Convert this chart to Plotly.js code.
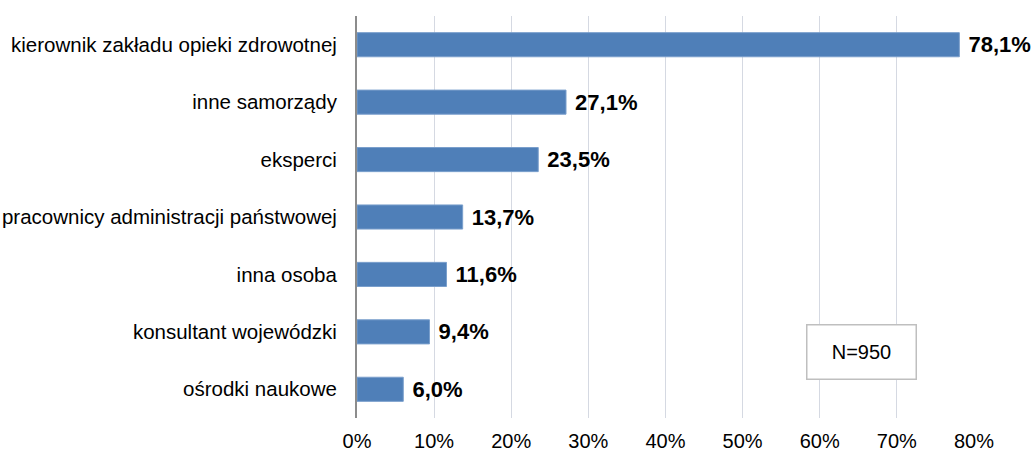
<!DOCTYPE html>
<html>
<head>
<meta charset="utf-8">
<script src="https://cdn.plot.ly/plotly-3.0.1.min.js"></script>
<style>html,body{margin:0;padding:0;background:#fff;}#chart{width:1033px;height:459px;}</style>
</head>
<body>
<div id="chart"></div>
<script>
const categories = [
  "kierownik zakładu opieki zdrowotnej",
  "inne samorządy",
  "eksperci",
  "pracownicy administracji państwowej",
  "inna osoba",
  "konsultant wojewódzki",
  "ośrodki naukowe"
];
const values = [78.1, 27.1, 23.5, 13.7, 11.6, 9.4, 6.0];
const tickValues = [0, 10, 20, 30, 40, 50, 60, 70, 80];
const tickLabels = ["0%", "10%", "20%", "30%", "40%", "50%", "60%", "70%", "80%"];
const noteText = "N=950";

const font = '"Liberation Sans", Arial, sans-serif';
const labels = values.map(v => '\u00a0' + v.toFixed(1).replace('.', ',') + '%');

const trace = {
  type: 'bar',
  orientation: 'h',
  x: values,
  y: categories,
  text: labels,
  textposition: 'outside',
  cliponaxis: false,
  constraintext: 'none',
  textfont: {family: font, size: 22, color: '#000', weight: 'bold'},
  marker: {color: '#4f7fb8', line: {color: '#7a9fcc', width: 1}},
  hoverinfo: 'none'
};

const layout = {
  width: 1033, height: 459,
  margin: {l: 357, r: 59, t: 16, b: 41},
  paper_bgcolor: '#fff', plot_bgcolor: '#fff',
  bargap: 0.58,
  showlegend: false,
  xaxis: {
    range: [0, 80],
    tickvals: tickValues,
    ticktext: tickLabels,
    showgrid: true,
    gridcolor: '#d5d9e2',
    gridwidth: 1,
    zeroline: false,
    showline: false,
    ticks: '',
    ticklabelstandoff: 9,
    tickfont: {family: font, size: 20, color: '#000'},
    fixedrange: true
  },
  yaxis: {
    autorange: 'reversed',
    showline: true,
    linecolor: '#8c8c8c',
    linewidth: 2,
    showgrid: false,
    ticks: 'outside',
    ticklen: 14,
    tickcolor: 'rgba(0,0,0,0)',
    tickfont: {family: font, size: 20.5, color: '#000'},
    fixedrange: true
  },
  annotations: [{
    text: noteText,
    xref: 'paper', yref: 'paper',
    x: 0.817, y: 0.164,
    xanchor: 'center', yanchor: 'middle',
    showarrow: false,
    font: {family: font, size: 20, color: '#000'},
    bgcolor: '#fff',
    bordercolor: '#bfbfbf',
    borderwidth: 1.5,
    width: 106, height: 51
  }]
};

Plotly.newPlot('chart', [trace], layout, {displayModeBar: false, staticPlot: true});
</script>
</body>
</html>
